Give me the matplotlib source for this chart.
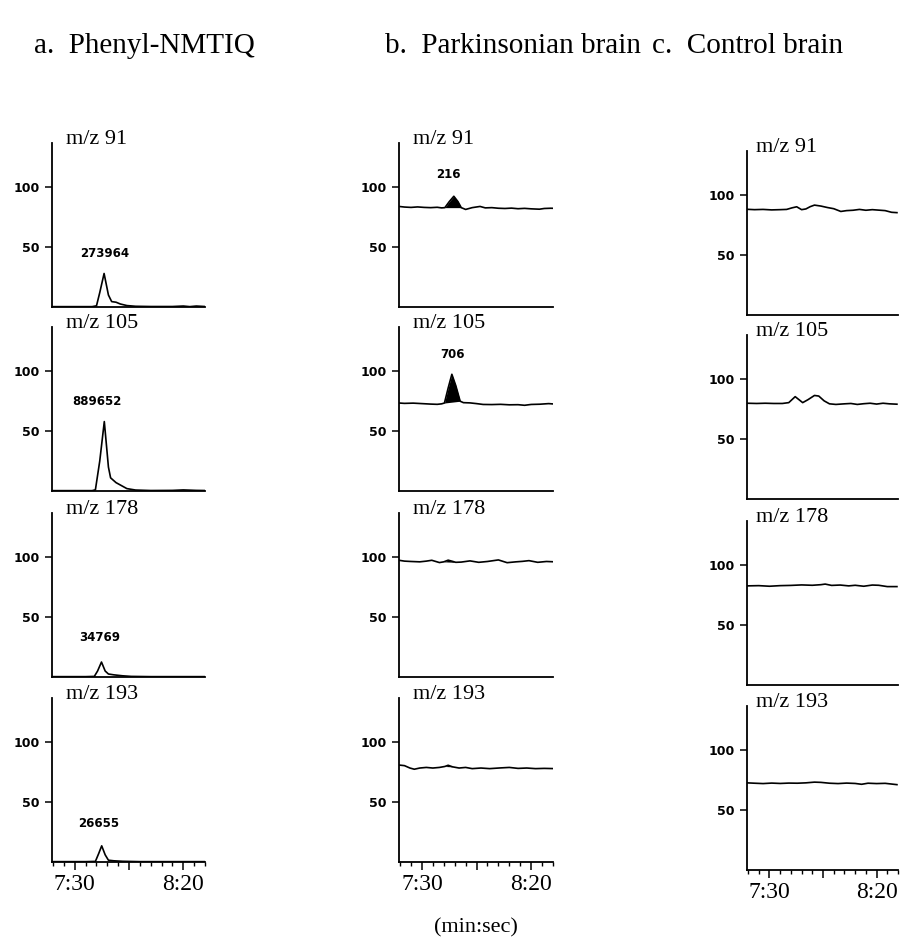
import matplotlib
matplotlib.use("Agg")
import matplotlib.pyplot as plt
import numpy as np
from matplotlib.ticker import FixedLocator, MultipleLocator

# ---- data (time in seconds, intensity in %) ----
column_titles = ["a.  Phenyl-NMTIQ", "b.  Parkinsonian brain", "c.  Control brain"]
ion_labels = ["m/z 91", "m/z 105", "m/z 178", "m/z 193"]
peak_labels_a = ["273964", "889652", "34769", "26655"]
peak_label_pos_a = [(463.9, 45), (460.0, 75), (461.6, 33), (460.8, 32)]
peak_labels_b = ["216", "706", "", ""]
peak_label_pos_b = [(462.3, 111), (464.0, 114), None, None]

xtick_values = [450, 500]
xtick_labels = ["7:30", "8:20"]

# column a: Phenyl-NMTIQ standard
a91_t = [439.5, 450, 458, 460, 461.5, 463.5, 465.5, 467, 469, 471, 474, 478, 485, 495, 500, 503, 506, 510]
a91_y = [0.3, 0.3, 0.3, 1, 12, 28, 10, 4.5, 4, 2.5, 1.2, 0.6, 0.4, 0.4, 0.8, 0.3, 0.8, 0.4]
a105_t = [439.5, 450, 458, 459.5, 461.5, 463.6, 465.5, 466.5, 469, 471, 474, 478, 485, 495, 500, 506, 510]
a105_y = [0.3, 0.3, 0.3, 1, 25, 58, 20, 11, 7, 5, 2, 0.8, 0.4, 0.5, 0.9, 0.5, 0.4]
a178_t = [439.5, 455, 459, 460.5, 462.3, 464, 465.5, 468, 472, 476, 485, 510]
a178_y = [0.3, 0.3, 0.5, 5, 12.5, 5, 2.5, 1.8, 1, 0.5, 0.3, 0.3]
a193_t = [439.5, 455, 459.5, 461, 462.4, 464, 465.5, 468, 472, 480, 510]
a193_y = [0.3, 0.3, 0.5, 7, 13.5, 6, 1.5, 1, 0.6, 0.3, 0.3]

# column b: Parkinsonian brain (shaded peak between the two fill limits)
b91_t = [439.5, 442, 445, 448, 451, 454, 457, 459, 460.5, 462.5, 464.6, 466.5, 468, 470, 473, 476.6,
         479, 482, 485, 488, 491, 494, 497, 500, 503.8, 506, 509, 511]
b91_y = [84, 83.5, 83.2, 83.6, 83.2, 83, 83.3, 82.8, 83, 88, 92.5, 88, 83, 81.5, 83, 84,
         82.8, 83, 82.5, 82.3, 82.6, 82.1, 82.4, 82, 81.7, 82.3, 82.5, 82.4]
b105_t = [439.5, 442, 446, 450, 454, 457, 459, 460.3, 462, 463.7, 465.5, 467.5, 469, 472, 475, 478,
          482, 486, 490, 494, 497, 500, 504, 508, 511]
b105_y = [73.5, 73.2, 73.4, 73, 72.6, 72.4, 72.8, 73.5, 86, 97.5, 88, 75, 73.8, 73.6, 73, 72.3,
          72.2, 72.4, 72, 72.1, 71.6, 72.3, 72.5, 73, 72.6]
b178_t = [439.5, 442, 445, 449, 452, 454.5, 458, 460, 462, 464, 465.5, 468, 472, 476, 480, 485, 489,
          493, 496, 499, 503, 507, 511]
b178_y = [97.5, 96.8, 96.5, 96.2, 96.8, 97.5, 95.6, 96.2, 97.6, 96.6, 95.8, 96, 97, 95.8, 96.5, 97.8, 95.5,
          96.2, 96.6, 97.2, 95.8, 96.5, 96.2]
b193_t = [439.5, 442, 444.5, 446.5, 449, 452, 455, 458, 460.5, 462, 464, 467, 470, 473, 477, 481, 486,
          490, 494, 498, 502, 506, 511]
b193_y = [81, 80.5, 78.5, 77.5, 78.5, 79, 78.5, 79, 79.8, 80.8, 79.5, 78.5, 79, 78, 78.5, 78, 78.6,
          79, 78.2, 78.5, 78, 78.2, 78]
b_fill = [(460.5, 468), (460.3, 467.5), (460, 465.5), (460.5, 464)]

# column c: control brain
c91_t = [439.5, 443, 447, 451, 455, 458, 460.5, 462.7, 465, 467, 469, 471, 474, 477, 480, 483.3, 486,
         489, 492, 495, 498, 501, 504, 507, 509.5]
c91_y = [88.3, 88, 88.2, 87.8, 88, 88.2, 89.5, 90.4, 88, 88.6, 90.5, 91.8, 91, 89.8, 88.8, 86.5, 87.2,
         87.5, 88.2, 87.5, 88, 87.6, 87.2, 85.8, 85.5]
c105_t = [439.5, 444, 448, 452, 456, 459, 462, 465.5, 468, 471, 473, 475.5, 478, 481, 485, 488, 491,
          494, 497, 500, 503, 506, 509.5]
c105_y = [80, 79.8, 80, 79.8, 79.8, 80.5, 85.5, 80.5, 83, 86.5, 86, 82, 79.5, 79, 79.5, 79.8, 79,
          79.6, 80, 79.3, 80, 79.5, 79.2]
c178_t = [439.5, 445, 450, 455, 460, 465, 470, 474, 476, 479, 483, 487, 490, 494, 498, 501, 505, 509.5]
c178_y = [82.8, 83, 82.5, 83, 83.2, 83.6, 83.3, 83.8, 84.3, 83.2, 83.5, 82.8, 83.3, 82.5, 83.5, 83.3, 82.2, 82.2]
c193_t = [439.5, 443, 447, 451, 455, 459, 463, 467, 471, 474, 478, 482, 486, 490, 493, 496, 500, 504, 509.5]
c193_y = [72.8, 72.5, 72.2, 72.6, 72.3, 72.6, 72.5, 72.8, 73.4, 73.2, 72.5, 72.2, 72.6, 72.3, 71.6, 72.5,
          72.2, 72.4, 71.3]

traces = [
    [(a91_t, a91_y), (a105_t, a105_y), (a178_t, a178_y), (a193_t, a193_y)],
    [(b91_t, b91_y), (b105_t, b105_y), (b178_t, b178_y), (b193_t, b193_y)],
    [(c91_t, c91_y), (c105_t, c105_y), (c178_t, c178_y), (c193_t, c193_y)],
]

# ---- layout (pixels of a 910x943 canvas) ----
W, H = 910, 943
col_left = [52, 399, 747]
col_width = [153, 154, 151]
row_bottom = [307, 491, 677, 862]
col_shift = [0, 0, 8]
panel_h = 164
label_dx = [0.09, 0.09, 0.06]

serif = "Liberation Serif"
sans = "DejaVu Sans"

fig = plt.figure(figsize=(W / 100, H / 100), dpi=100)

for ci in range(3):
    for ri in range(4):
        bottom = row_bottom[ri] + col_shift[ci]
        ax = fig.add_axes([col_left[ci] / W, 1 - bottom / H, col_width[ci] / W, panel_h / H])
        t, y = traces[ci][ri]
        t = np.array(t)
        y = np.array(y)
        ax.plot(t, y, color="black", lw=1.2, solid_joinstyle="round")

        if ci == 1:
            t0, t1 = b_fill[ri]
            base = np.interp([t0, t1], t, y)
            base_line = np.interp(t, [t0, t1], base)
            ax.fill_between(t, y, base_line, where=(t >= t0) & (t <= t1),
                            color="black", lw=0, interpolate=True)
            if peak_labels_b[ri]:
                px, py = peak_label_pos_b[ri]
                ax.text(px, py, peak_labels_b[ri], ha="center", va="center",
                        fontsize=8.5, fontweight="bold", family=sans)
        if ci == 0:
            px, py = peak_label_pos_a[ri]
            ax.text(px, py, peak_labels_a[ri], ha="center", va="center",
                    fontsize=8.5, fontweight="bold", family=sans)

        ax.set_xlim(439.5, 510)
        ax.set_ylim(0, 137)
        for side in ["top", "right"]:
            ax.spines[side].set_visible(False)
        for side in ["left", "bottom"]:
            ax.spines[side].set_linewidth(1.3)

        ax.set_yticks([50, 100])
        ax.set_yticklabels(["50", "100"], fontsize=9, fontweight="bold", family=sans)
        ax.tick_params(axis="y", direction="out", length=5, width=1.1, pad=4)

        ax.text(label_dx[ci], 0.995, ion_labels[ri], transform=ax.transAxes,
                ha="left", va="baseline", fontsize=16, family=serif)

        if ri == 3:
            ax.xaxis.set_major_locator(FixedLocator([450, 475, 500]))
            ax.xaxis.set_minor_locator(MultipleLocator(5))
            ax.set_xticks(xtick_values + [475])
            ax.set_xticklabels(xtick_labels + [""], fontsize=17, family=serif)
            ax.tick_params(axis="x", which="major", direction="out", length=6, width=1.1, pad=3)
            ax.tick_params(axis="x", which="minor", direction="out", length=3, width=1.0)
        else:
            ax.set_xticks([])

title_x = [34, 385, 652]
for ci in range(3):
    fig.text(title_x[ci] / W, 1 - 46 / H, column_titles[ci], ha="left", va="center",
             fontsize=21, family=serif)

fig.text(476 / W, 1 - 928 / H, "(min:sec)", ha="center", va="center", fontsize=16, family=serif)

fig.savefig("out.png", dpi=100)
